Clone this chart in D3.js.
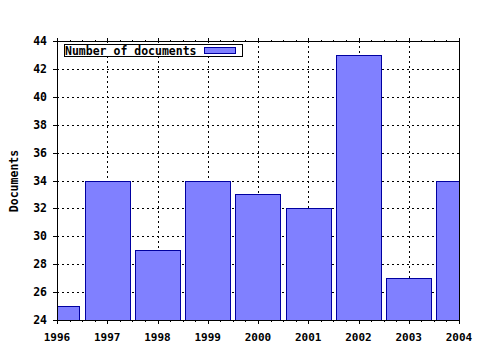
<!DOCTYPE html>
<html><head><meta charset="utf-8">
<script src="https://cdn.jsdelivr.net/npm/d3@7"></script>
<style>
html,body{margin:0;padding:0;background:#fff;}
text{font-family:"DejaVu Sans Mono",monospace;font-weight:bold;fill:#000;}
</style></head>
<body><svg id="c" width="480" height="350"></svg>
<script>
const years = [1996,1997,1998,1999,2000,2001,2002,2003,2004];
const documents = [25,34,29,34,33,32,43,27,34];
const yTicks = [24,26,28,30,32,34,36,38,40,42,44];
const seriesName = "Number of documents";
const yTitle = "Documents";

const L=57, R=459, T=41, B=320;
const svg = d3.select("#c");
const x = d3.scaleLinear().domain([1996,2004]).range([L,R]);
const y = d3.scaleLinear().domain([24,44]).range([B,T]);

svg.append("defs").append("clipPath").attr("id","clip")
  .append("rect").attr("x",L).attr("y",T).attr("width",R-L).attr("height",B-T);

const g = svg.append("g").attr("shape-rendering","crispEdges");
// grid
g.selectAll(".hg").data(yTicks.slice(1,-1)).enter().append("line")
  .attr("x1",L).attr("x2",R).attr("y1",d=>Math.round(y(d))+0.5).attr("y2",d=>Math.round(y(d))+0.5)
  .attr("stroke","#000").attr("stroke-dasharray","2,3");
g.selectAll(".vg").data(years.slice(1,-1)).enter().append("line")
  .attr("y1",T).attr("y2",B).attr("x1",d=>Math.round(x(d))+0.5).attr("x2",d=>Math.round(x(d))+0.5)
  .attr("stroke","#000").attr("stroke-dasharray","2,3");

// bars
const step = x(1997)-x(1996);
const bw = step*0.9;
g.append("g").attr("clip-path","url(#clip)").selectAll("rect").data(years).enter().append("rect")
  .attr("x",d=>Math.round(x(d)-bw/2)+0.5)
  .attr("width",Math.round(bw))
  .attr("y",(d,i)=>Math.round(y(documents[i]))+0.5)
  .attr("height",(d,i)=>Math.round(B-y(documents[i])))
  .attr("fill","#8080ff").attr("stroke","#0000a0").attr("stroke-width",1);

// frame
g.append("line").attr("x1",L+0.5).attr("x2",L+0.5).attr("y1",T).attr("y2",B+1).attr("stroke","#000");
g.append("line").attr("x1",R+0.5).attr("x2",R+0.5).attr("y1",T).attr("y2",B+1).attr("stroke","#000");
g.append("line").attr("x1",L).attr("x2",R+1).attr("y1",T+0.5).attr("y2",T+0.5).attr("stroke","#000");
g.append("line").attr("x1",L).attr("x2",R+1).attr("y1",B+0.5).attr("y2",B+0.5).attr("stroke","#000");

// x ticks (major + minor), bottom and top
const minor = [];
for (let i=0;i<years.length-1;i++) for (let k=1;k<4;k++) minor.push(years[i]+k/4);
years.forEach(d=>{
  const px = Math.round(x(d))+0.5;
  g.append("line").attr("x1",px).attr("x2",px).attr("y1",B).attr("y2",B+4).attr("stroke","#000");
  g.append("line").attr("x1",px).attr("x2",px).attr("y1",T-3).attr("y2",T+1).attr("stroke","#000");
});
minor.forEach(d=>{
  const px = Math.round(x(d))+0.5;
  g.append("line").attr("x1",px).attr("x2",px).attr("y1",B).attr("y2",B+2).attr("stroke","#000");
  g.append("line").attr("x1",px).attr("x2",px).attr("y1",T-1).attr("y2",T+1).attr("stroke","#000");
});
// y ticks
yTicks.forEach(d=>{
  const py = Math.round(y(d))+0.5;
  g.append("line").attr("x1",L-4).attr("x2",L+2).attr("y1",py).attr("y2",py).attr("stroke","#000");
});

// labels
svg.selectAll(".xl").data(years).enter().append("text")
  .attr("x",d=>x(d)).attr("y",341).attr("text-anchor","middle").attr("font-size",11).text(d=>d);
svg.selectAll(".yl").data(yTicks).enter().append("text")
  .attr("x",47).attr("y",d=>y(d)+4).attr("text-anchor","end").attr("font-size",11.5).text(d=>d);
svg.append("text").attr("transform","translate(18,181) rotate(-90)")
  .attr("text-anchor","middle").attr("font-size",11.5).text(yTitle);

// legend
const lg = svg.append("g").attr("shape-rendering","crispEdges");
lg.append("rect").attr("x",64.5).attr("y",44.5).attr("width",178).attr("height",12)
  .attr("fill","#fff").attr("stroke","#000");
lg.append("text").attr("x",65).attr("y",54.5).attr("font-size",11.5).text(seriesName);
lg.append("rect").attr("x",204.5).attr("y",47.5).attr("width",31).attr("height",6)
  .attr("fill","#8080ff").attr("stroke","#0000a0");
</script></body></html>
